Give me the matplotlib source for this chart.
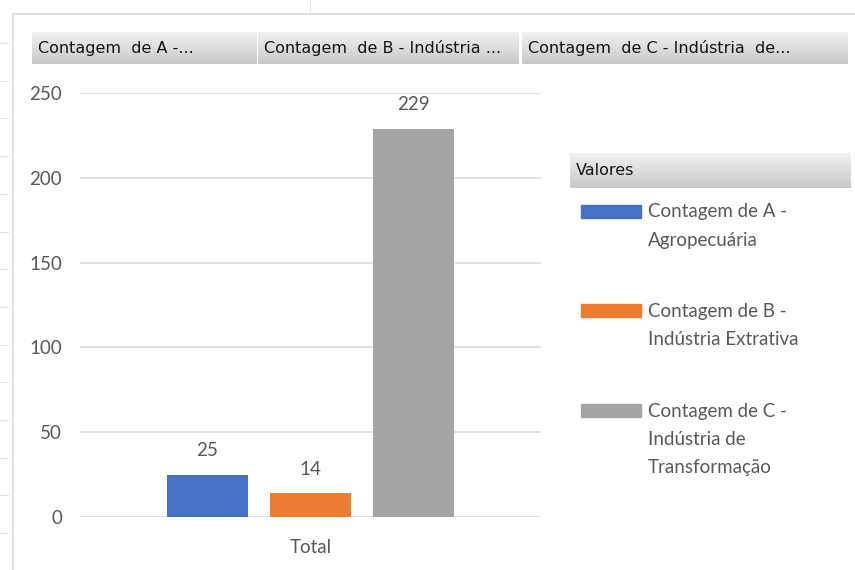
import matplotlib

matplotlib.use("Agg")
import matplotlib.pyplot as plt
import numpy as np
from matplotlib.patches import Rectangle
from matplotlib.lines import Line2D

# data
categories = ["Total"]
series_names = [
    "Contagem de A -\nAgropecuária",
    "Contagem de B -\nIndústria Extrativa",
    "Contagem de C -\nIndústria de\nTransformação",
]
series_values = [25, 14, 229]
series_colors = ["#4472C4", "#ED7D31", "#A5A5A5"]
button_labels = ["Contagem  de A -...", "Contagem  de B - Indústria ...", "Contagem  de C - Indústria  de..."]
y_ticks = [0, 50, 100, 150, 200, 250]

W, H = 855, 570
TXT = "#595959"
FONT = "Lato"


def fx(px):
    return px / W


def fy(py):
    return 1 - py / H


fig = plt.figure(figsize=(W / 100, H / 100), dpi=100)

# chart border and faint sheet gridlines behind it
fig.add_artist(Line2D([fx(14), 1], [fy(14), fy(14)], color="#d9d9d9", lw=1.2))
fig.add_artist(Line2D([fx(13), fx(13)], [fy(14), 0], color="#d9d9d9", lw=1.2))
fig.add_artist(Line2D([fx(310), fx(310)], [1, fy(14)], color="#e6e6e6", lw=0.8))
for yy in np.arange(43, 570, 37.7):
    fig.add_artist(Line2D([0, fx(8)], [fy(yy), fy(yy)], color="#e3e3e3", lw=0.8))

# plot area
ax = fig.add_axes([fx(80), fy(517), fx(541 - 80), (517 - 93) / H])
x = np.arange(len(categories))
width = 81 / 461
step = 103 / 461
for i, (name, val, col) in enumerate(zip(series_names, series_values, series_colors)):
    bars = ax.bar(x + (i - 1) * step, [val], width=width, color=col, zorder=3)
    ax.bar_label(bars, padding=11, fontsize=13.5, color=TXT, family=FONT)

ax.set_xlim(-0.5, 0.5)
ax.set_ylim(0, 250)
ax.set_yticks(y_ticks)
ax.set_xticks(x)
ax.set_xticklabels(categories)
ax.grid(axis="y", color="#dcdcdc", lw=1.2, zorder=0)
for s in ax.spines.values():
    s.set_visible(False)
ax.tick_params(axis="both", length=0, labelsize=13.5, labelcolor=TXT)
ax.tick_params(axis="y", pad=13)
ax.tick_params(axis="x", pad=16)
for lab in ax.get_xticklabels() + ax.get_yticklabels():
    lab.set_family(FONT)

# field buttons with grey gradient
grad = np.linspace(0, 1, 50).reshape(-1, 1)
gcmap = matplotlib.colors.LinearSegmentedColormap.from_list("g", ["#f2f2f2", "#c9c9c9"])


def button(x0, x1, y0, y1, text):
    bax = fig.add_axes([fx(x0), fy(y1), fx(x1 - x0), (y1 - y0) / H])
    bax.imshow(grad, cmap=gcmap, aspect="auto", extent=[0, 1, 0, 1], origin="upper")
    bax.set_axis_off()
    fig.text(fx(x0 + 6), fy((y0 + y1) / 2), text, ha="left", va="center",
             fontsize=11.5, color="#141414", family="DejaVu Sans")


button(32, 256, 32, 64, button_labels[0])
button(258, 518, 32, 64, button_labels[1])
button(522, 848, 32, 64, button_labels[2])
button(570, 850, 153, 188, "Valores")

# legend
entry_tops = [212, 311, 411]
for name, col, ytop in zip(series_names, series_colors, entry_tops):
    fig.add_artist(Rectangle((fx(581), fy(ytop + 6)), fx(60), 13 / H, color=col, transform=fig.transFigure))
    for k, line in enumerate(name.split("\n")):
        fig.text(fx(648), fy(ytop + 28.5 * k), line, ha="left", va="center",
                 fontsize=13.5, color=TXT, family=FONT)

fig.savefig("out.png", dpi=100)
